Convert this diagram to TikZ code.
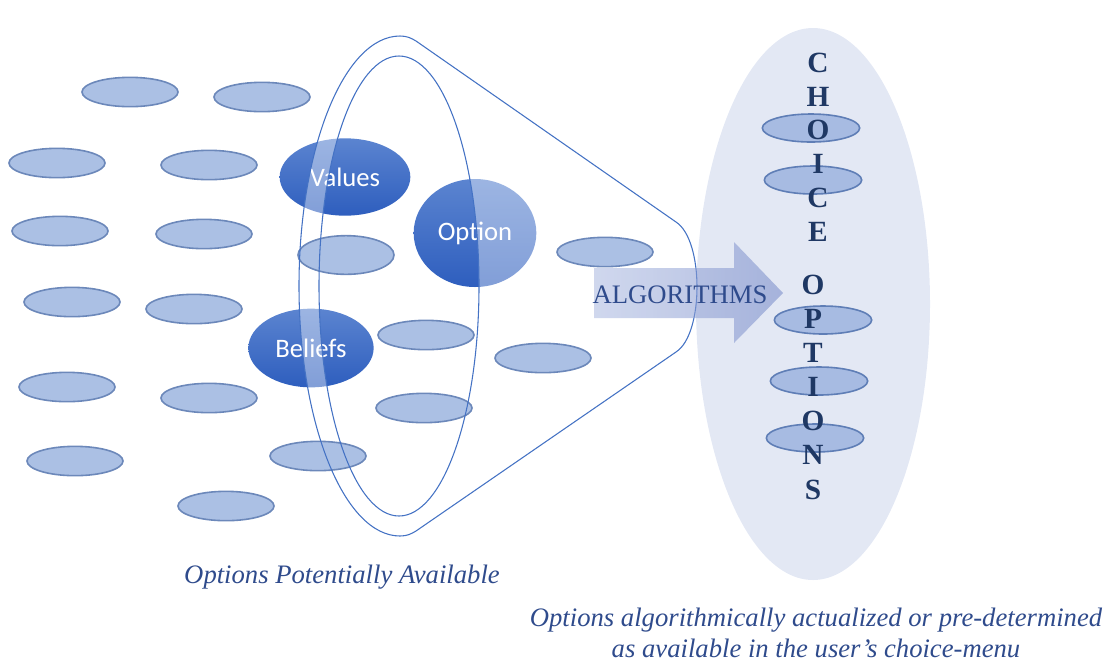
\documentclass[tikz,border=0pt]{standalone}
\usepackage{fontspec}
\setmainfont{Liberation Serif}
\newfontfamily\calibri{Carlito}
\usetikzlibrary{shapes.geometric}

\definecolor{optfill}{HTML}{ABC0E4}
\definecolor{optline}{HTML}{6C88BA}
\definecolor{menufill}{HTML}{E3E8F4}
\definecolor{menuopt}{HTML}{9DB4E0}
\definecolor{menuline}{HTML}{5F7EB6}
\definecolor{menutext}{HTML}{1F3864}
\definecolor{captext}{HTML}{2F4B8C}
\definecolor{funnel}{HTML}{4472C4}
\definecolor{bluetop}{HTML}{5B84D0}
\definecolor{bluebot}{HTML}{2E5EBE}
\definecolor{arrowL}{HTML}{A9B7E0}
\definecolor{arrowR}{HTML}{7488C8}

\tikzset{
  opt/.style={ellipse, draw=optline, fill=optfill, line width=1.2pt,
    minimum width=72pt, minimum height=22pt, inner sep=0pt},
  menuopt/.style={ellipse, draw=menuline, fill=menuopt, fill opacity=0.85,
    draw opacity=1, line width=1.2pt, minimum width=73pt, minimum height=21pt, inner sep=0pt},
  bigopt/.style={ellipse, top color=bluetop, bottom color=bluebot, draw=none,
    text=white, font=\calibri\fontsize{20}{22}\selectfont, inner sep=0pt},
  letter/.style={text=menutext, font=\bfseries\fontsize{22}{24}\selectfont, inner sep=0pt},
  caption/.style={text=captext, font=\itshape\fontsize{20}{23}\selectfont, inner sep=0pt}
}

\begin{document}
\begin{tikzpicture}[x=0.75pt, y=-0.75pt]
  \useasboundingbox (0,0) rectangle (1113,662);

  % Choice menu
  \fill[menufill] (813,304) ellipse [x radius=117, y radius=276];

  % Values, option, beliefs
  \node[bigopt, minimum width=98pt, minimum height=58pt] (values)  at (345,177) {Values};
  \node[bigopt, minimum width=92pt, minimum height=81pt] (option)  at (475,233) {Option};
  \node[bigopt, minimum width=94pt, minimum height=59pt] (beliefs) at (311,348) {Beliefs};

  % Funnel body (lightens what lies under it)
  \fill[white, fill opacity=0.4, even odd rule]
    (400,36) arc [start angle=-90, end angle=-270, x radius=101, y radius=250]
    .. controls (407,536) and (411,534) .. (416,531) -- (676,352)
    .. controls (704,334) and (704,240) .. (676,222) -- (416,41)
    .. controls (411,38) and (407,36) .. cycle
    (399,286) ellipse [x radius=80, y radius=230];

  % Options potentially available
  \node[opt] (p1)  at (130,92)  {};
  \node[opt] (p2)  at (262,97)  {};
  \node[opt] (p3)  at (57,163)  {};
  \node[opt] (p4)  at (209,165) {};
  \node[opt] (p5)  at (60,231)  {};
  \node[opt] (p6)  at (204,234) {};
  \node[opt] (p7)  at (72,302)  {};
  \node[opt] (p8)  at (194,309) {};
  \node[opt] (p9)  at (67,387)  {};
  \node[opt] (p10) at (209,398) {};
  \node[opt] (p11) at (75,461)  {};
  \node[opt] (p12) at (226,506) {};
  \node[opt] (p13) at (318,456) {};
  \node[opt, minimum height=29pt] (p14) at (346,255) {};
  \node[opt] (p15) at (426,335) {};
  \node[opt] (p16) at (424,408) {};
  \node[opt] (p17) at (605,252) {};
  \node[opt] (p18) at (543,358) {};

  % Funnel outline
  \draw[funnel, line width=0.8pt]
    (400,36) arc [start angle=-90, end angle=-270, x radius=101, y radius=250]
    .. controls (407,536) and (411,534) .. (416,531) -- (676,352)
    .. controls (704,334) and (704,240) .. (676,222) -- (416,41)
    .. controls (411,38) and (407,36) .. cycle;
  \draw[funnel, line width=0.8pt] (399,286) ellipse [x radius=80, y radius=230];

  % Algorithms arrow
  \shade[left color=arrowL, right color=arrowR, fill opacity=0.55]
    (594,268) -- (734,268) -- (734,242) -- (783,293) -- (734,343) -- (734,318) -- (594,318) -- cycle;
  \node[text=captext, font=\fontsize{20}{22}\selectfont, inner sep=0pt] (algo) at (680,295) {ALGORITHMS};

  % Choice options
  \node[menuopt] (m1) at (811,128) {};
  \node[menuopt] (m2) at (813,180) {};
  \node[menuopt] (m3) at (823,320) {};
  \node[menuopt] (m4) at (819,381) {};
  \node[menuopt] (m5) at (815,438) {};

  \node[letter] (c1) at (818,63)  {C};
  \node[letter] (c2) at (818,97)  {H};
  \node[letter] (c3) at (818,130) {O};
  \node[letter] (c4) at (818,164) {I};
  \node[letter] (c5) at (818,198) {C};
  \node[letter] (c6) at (818,232) {E};

  \node[letter] (o1) at (813,285) {O};
  \node[letter] (o2) at (813,319) {P};
  \node[letter] (o3) at (813,353) {T};
  \node[letter] (o4) at (813,387) {I};
  \node[letter] (o5) at (813,421) {O};
  \node[letter] (o6) at (813,455) {N};
  \node[letter] (o7) at (813,490) {S};

  % Captions
  \node[caption] (potential) at (342,577) {Options Potentially Available};
  \node[caption, align=center] (actual) at (816,633)
    {Options algorithmically actualized or pre-determined\\as available in the user’s choice-menu};
\end{tikzpicture}
\end{document}
